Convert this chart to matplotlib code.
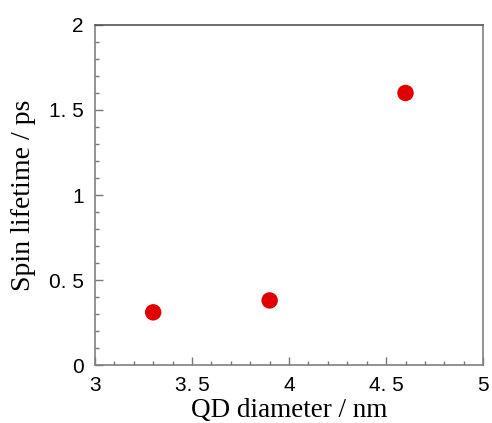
import matplotlib
matplotlib.use("Agg")
import matplotlib.pyplot as plt
from matplotlib.ticker import MultipleLocator, FixedLocator, FixedFormatter

# data
diameter_nm = [3.3, 3.9, 4.6]
lifetime_ps = [0.31, 0.38, 1.60]

x_ticks = [3.0, 3.5, 4.0, 4.5, 5.0]
x_tick_labels = ["3", "3. 5", "4", "4. 5", "5"]
y_ticks = [0.0, 0.5, 1.0, 1.5, 2.0]
y_tick_labels = ["0", "0. 5", "1", "1. 5", "2"]

TICK_FONT = ["Liberation Sans Narrow", "Liberation Sans", "DejaVu Sans"]
LABEL_FONT = ["Liberation Serif", "DejaVu Serif"]

fig = plt.figure(figsize=(4.92, 4.23), dpi=100)
ax = fig.add_axes([0.193, 0.137, 0.789, 0.804])

ax.scatter(diameter_nm, lifetime_ps, s=140, color="#e00000", edgecolors="none", zorder=3)

ax.set_xlim(3, 5)
ax.set_ylim(0, 2)
ax.xaxis.set_major_locator(FixedLocator(x_ticks))
ax.xaxis.set_major_formatter(FixedFormatter(x_tick_labels))
ax.yaxis.set_major_locator(FixedLocator(y_ticks))
ax.yaxis.set_major_formatter(FixedFormatter(y_tick_labels))
ax.xaxis.set_minor_locator(MultipleLocator(0.1))
ax.yaxis.set_minor_locator(MultipleLocator(0.1))

ax.tick_params(which="both", direction="in", color="#777777", width=1)
ax.tick_params(which="major", length=6, pad=8, labelsize=15)
ax.tick_params(which="minor", length=3)
for lab in ax.get_xticklabels() + ax.get_yticklabels():
    lab.set_family(TICK_FONT)

for sp in ax.spines.values():
    sp.set_color("#808080")
    sp.set_linewidth(1.2)
ax.spines["top"].set_color("#555555")

ax.set_xlabel("QD diameter / nm", family=LABEL_FONT, fontsize=19.5, labelpad=2)
ax.set_ylabel("Spin lifetime / ps", family=LABEL_FONT, fontsize=20, labelpad=9)

fig.savefig("out.png", dpi=100)
